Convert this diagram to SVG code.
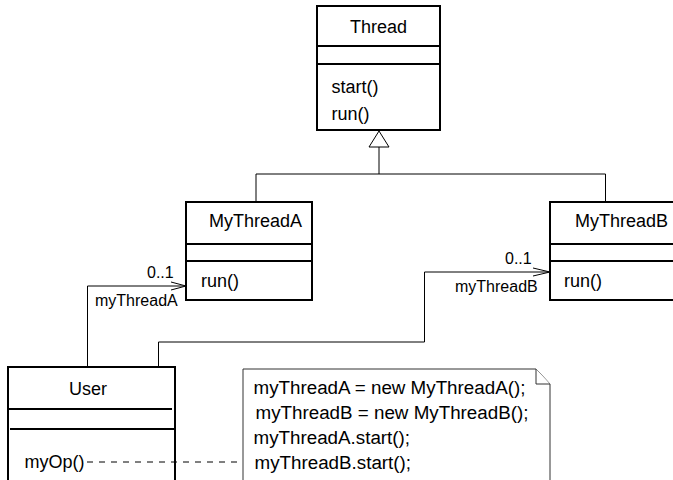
<svg xmlns="http://www.w3.org/2000/svg" width="673" height="480" viewBox="0 0 673 480">
<style>
.box{fill:#fff;stroke:#000;stroke-width:2}
.sep{stroke:#000;stroke-width:2}
.t{font-family:"Liberation Sans",Arial,Helvetica,sans-serif;font-size:18px;fill:#000}
.n{font-family:"Liberation Sans",Arial,Helvetica,sans-serif;font-size:18.8px;fill:#000}
.l{font-family:"Liberation Sans",Arial,Helvetica,sans-serif;font-size:16px;fill:#000}
.c{fill:none;stroke:#000;stroke-width:1}
.note{fill:#fff;stroke:#333;stroke-width:1}
</style>
<rect width="673" height="480" fill="#fff"/>
<g id="Thread">
  <rect class="box" x="317" y="6" width="123" height="124"/>
  <line class="sep" x1="317" y1="46" x2="440" y2="46"/>
  <line class="sep" x1="317" y1="64" x2="440" y2="64"/>
  <text class="t" x="378.5" y="33" text-anchor="middle">Thread</text>
  <text class="t" x="331.5" y="93">start()</text>
  <text class="t" x="331.5" y="120">run()</text>
</g>
<g id="MyThreadA">
  <rect class="box" x="186" y="202" width="126" height="98"/>
  <line class="sep" x1="186" y1="244" x2="312" y2="244"/>
  <line class="sep" x1="186" y1="261" x2="312" y2="261"/>
  <text class="t" x="209" y="227">MyThreadA</text>
  <text class="t" x="201" y="287">run()</text>
</g>
<g id="MyThreadB">
  <rect class="box" x="550" y="202" width="140" height="98"/>
  <line class="sep" x1="550" y1="244" x2="690" y2="244"/>
  <line class="sep" x1="550" y1="261" x2="690" y2="261"/>
  <text class="t" x="575" y="227">MyThreadB</text>
  <text class="t" x="564" y="287">run()</text>
</g>
<g id="User">
  <rect class="box" x="8" y="367" width="167" height="130"/>
  <line class="sep" x1="8" y1="409" x2="172" y2="409"/>
  <line class="sep" x1="10" y1="429" x2="175" y2="429"/>
  <text class="t" x="88" y="395" text-anchor="middle">User</text>
  <text class="t" x="24.5" y="468">myOp()</text>
</g>
<g id="Note">
  <path class="note" d="M243,497 L243,369 L536,369 L550,384 L550,497"/>
  <path class="note" d="M536,369 L536,384 L550,384" fill="none"/>
  <text class="n" x="253.5" y="394">myThreadA = new MyThreadA();</text>
  <text class="n" x="255.5" y="419">myThreadB = new MyThreadB();</text>
  <text class="n" x="253.5" y="444">myThreadA.start();</text>
  <text class="n" x="254.5" y="469">myThreadB.start();</text>
</g>
<g id="connectors">
  <polyline class="c" points="379,147 379,174"/>
  <polyline class="c" points="256,202 256,174 605.5,174 605.5,202"/>
  <polygon points="379,131 369,147 389,147" fill="#fff" stroke="#000" stroke-width="1"/>
  <polyline class="c" points="87.5,367 87.5,286 186,286"/>
  <polyline class="c" points="171,282 186,286 171,290"/>
  <text class="l" x="147" y="278">0..1</text>
  <text class="l" x="95" y="306">myThreadA</text>
  <polyline class="c" points="158.5,367 158.5,342 424.5,342 424.5,272 550,272"/>
  <polyline class="c" points="533,268 550,272 533,276"/>
  <text class="l" x="505" y="264">0..1</text>
  <text class="l" x="455" y="292">myThreadB</text>
  <line class="c" x1="87" y1="462" x2="243" y2="462" stroke-dasharray="6,6"/>
</g>
</svg>
